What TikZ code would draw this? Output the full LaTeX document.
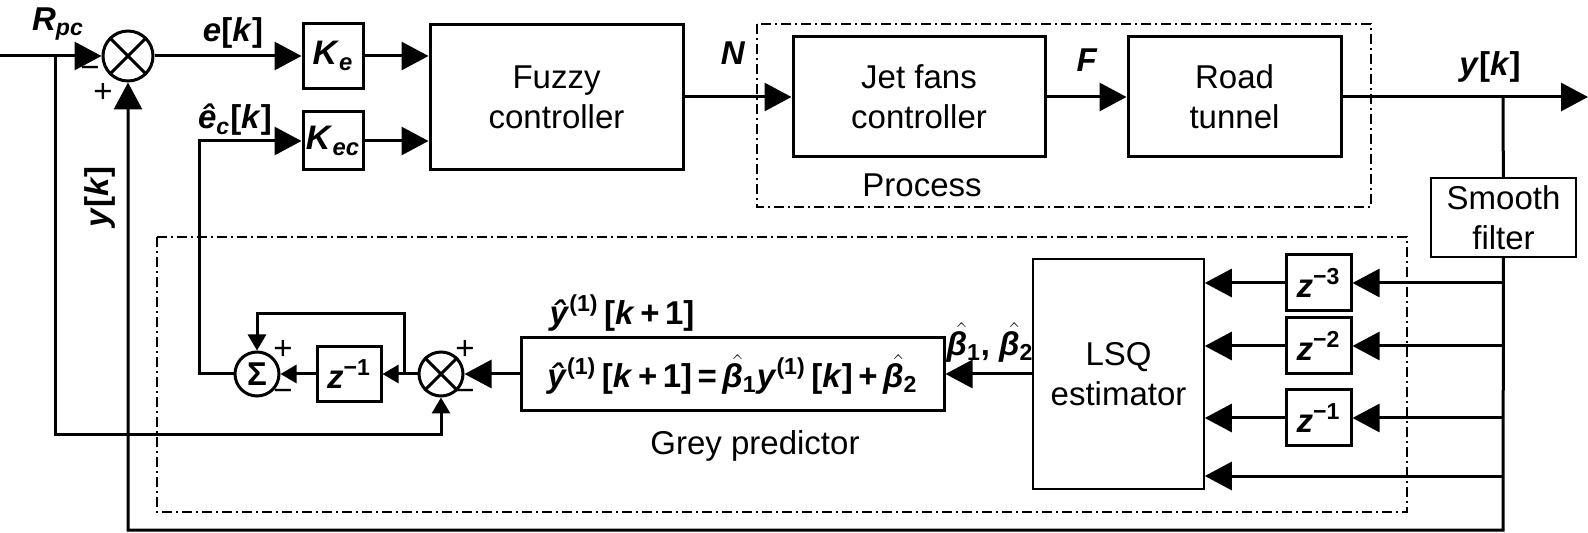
\documentclass[tikz,border=0pt]{standalone}
\usepackage{fontspec}
\setmainfont{Liberation Sans}
\usetikzlibrary{arrows.meta}
\newcommand{\vb}[1]{\textbf{\textit{#1}}}
\newcommand{\hatv}[1]{\ensuremath{\skew{5}\hat{\mbox{#1}}}}
\tikzset{
	blk/.style={draw,line width=1.5pt,inner sep=0pt,align=center},
	thinblk/.style={draw,line width=0.8pt,inner sep=0pt,align=center},
	junc/.style={draw,circle,line width=1.5pt,inner sep=0pt},
	grp/.style={draw,line width=0.6pt,dash pattern=on 5pt off 2pt on 1pt off 2pt},
	sig/.style={line width=1.5pt},
	big/.style={sig,-{Triangle[length=13.5pt,width=14pt]}},
	small/.style={sig,-{Triangle[length=8pt,width=9pt]}},
}
\begin{document}
\begin{tikzpicture}[x=0.5pt,y=-0.5pt,font=\fontsize{16.5}{20}\selectfont]
		\useasboundingbox (0,0) rectangle (1588,533);
		\node[junc,minimum size=25pt] (s1) at (128,56) {};
		\draw[sig] (s1.north west)--(s1.south east) (s1.north east)--(s1.south west);
		\node[blk,minimum width=30pt,minimum height=32.5pt] (ke) at (333,56) {\fontsize{17}{19}\selectfont\vb{K}\textsubscript{\vb{e}}};
		\node[blk,minimum width=30pt,minimum height=29pt] (kec) at (333,141) {\fontsize{17}{19}\selectfont\vb{K}\textsubscript{\vb{ec}}};
		\node[blk,minimum width=126.5pt,minimum height=72.5pt] (fz) at (556.5,97) {Fuzzy\\controller};
		\node[blk,minimum width=126pt,minimum height=60pt] (jet) at (919,97) {Jet fans\\controller};
		\node[blk,minimum width=106.5pt,minimum height=60pt] (rt) at (1234.5,97) {Road\\tunnel};
		\node[thinblk,minimum width=72.5pt,minimum height=39.5pt] (sm) at (1503.5,217.5) {Smooth\\filter};
		\node[thinblk,minimum width=85.5pt,minimum height=115pt] (lsq) at (1118.5,374) {LSQ\\estimator};
		\node[blk,minimum width=32.5pt,minimum height=28pt] (z3) at (1318.5,283) {\vb{z}\textsuperscript{\textbf{−3}}};
		\node[blk,minimum width=32.5pt,minimum height=28pt] (z2) at (1318.5,346) {\vb{z}\textsuperscript{\textbf{−2}}};
		\node[blk,minimum width=32.5pt,minimum height=28pt] (z1) at (1318.5,418) {\vb{z}\textsuperscript{\textbf{−1}}};
		\node[blk,minimum width=211.5pt,minimum height=36.5pt] (eq) at (732.5,374) {\textbf{\vb{ŷ}\textsuperscript{(1)}\,[\vb{k}\,+\,1]\,=\,\hatv{\vb{β}}\textsubscript{1}\vb{y}\textsuperscript{(1)}\,[\vb{k}]\,+\,\hatv{\vb{β}}\textsubscript{2}}};
		\node[junc,minimum size=22pt] (pr) at (441,374) {};
		\draw[sig] (pr.north west)--(pr.south east) (pr.north east)--(pr.south west);
		\node[blk,minimum width=32pt,minimum height=27.5pt] (zd) at (349,374) {\vb{z}\textsuperscript{\textbf{−1}}};
		\node[junc,minimum size=22pt] (sg) at (257,374) {\textbf{Σ}};
		\draw[grp] (757,24) rectangle (1371,207);
		\draw[grp] (157,237) rectangle (1407,512);
		\coordinate (in) at (0,56);
		\coordinate (b1) at (55,56);
		\coordinate (b2) at (55,435);
		\coordinate (c1) at (199,374);
		\coordinate (c2) at (404,374);
		\coordinate (c3) at (404,314);
		\coordinate (b3) at (1503,97);
		\coordinate (out) at (1588,97);
		\coordinate (b4) at (1503,530);
		\coordinate (t3) at (1503,283);
		\coordinate (t2) at (1503,346);
		\coordinate (t1) at (1503,418);
		\coordinate (t0) at (1503,476);
		\draw[big] (in)--(s1);
		\draw[small] (b1)--(b2)-|(pr.south);
		\draw[big] (s1)--(ke);
		\draw[big] (ke)--(fz.west|-ke);
		\draw[big] (kec)--(fz.west|-kec);
		\draw[big] (sg)--(c1)|-(kec.west);
		\draw[big] (fz)--(jet);
		\draw[big] (jet)--(rt);
		\draw[big] (rt)--(out);
		\draw[sig] (b3)--(sm);
		\draw[big] (sm)--(b4)-|(s1.south);
		\draw[big] (t3)--(z3);
		\draw[big] (t2)--(z2);
		\draw[big] (t1)--(z1);
		\draw[big] (z3)--(lsq.east|-z3);
		\draw[big] (z2)--(lsq.east|-z2);
		\draw[big] (z1)--(lsq.east|-z1);
		\draw[big] (t0)--(lsq.east|-t0);
		\draw[big] (lsq)--(eq);
		\draw[big] (eq)--(pr);
		\draw[small] (pr)--(zd);
		\draw[small] (c2)--(c3)-|(sg.north);
		\draw[small] (zd)--(sg);
		\node (lr) at (58,24) {\vb{R}\textsubscript{\vb{pc}}};
		\node (le) at (233,33) {\textbf{\vb{e}[\vb{k}]}};
		\node (lec) at (235,120) {\textbf{\vb{ê}\textsubscript{\vb{c}}[\vb{k}]}};
		\node (ln) at (733,53) {\vb{N}};
		\node (lf) at (1087,60) {\vb{F}};
		\node (ly) at (1490,67) {\textbf{\vb{y}[\vb{k}]}};
		\node[rotate=90] (lyf) at (100,197) {\textbf{\vb{y}[\vb{k}]}};
		\node (lpr) at (922,185) {Process};
		\node (lgp) at (755,446) {Grey predictor};
		\node (lyh) at (622,313) {\textbf{\vb{ŷ}\textsuperscript{(1)}\,[\vb{k}\,+\,1]}};
		\node (lb) at (990,342) {\textbf{\hatv{\vb{β}}\textsubscript{1}, \hatv{\vb{β}}\textsubscript{2}}};
		\node (m1) at (90,72) {−};
		\node (p1) at (103,93) {+};
		\node (p2) at (283,350) {+};
		\node (m2) at (283,395) {−};
		\node (p3) at (465,350) {+};
		\node (m3) at (465,395) {−};
	\end{tikzpicture}
\end{document}
